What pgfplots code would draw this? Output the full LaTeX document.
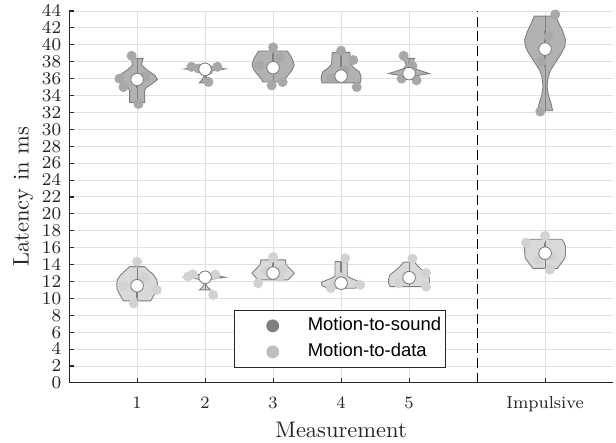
\documentclass[border=0pt]{standalone}
\usepackage{fontspec}
\usepackage{pgfplots}
\pgfplotsset{compat=1.18}
\usetikzlibrary{calc}
\newfontfamily\legendfont{Liberation Sans}
\definecolor{sndfill}{RGB}{178,178,178}
\definecolor{datfill}{RGB}{217,217,217}
\definecolor{edgec}{RGB}{128,128,128}
\definecolor{snddot}{RGB}{168,168,168}
\definecolor{datdot}{RGB}{210,210,210}
\definecolor{sndleg}{RGB}{128,128,128}
\definecolor{datleg}{RGB}{191,191,191}
\definecolor{gridc}{RGB}{225,225,225}
\definecolor{axc}{RGB}{38,38,38}
\begin{document}
\begin{tikzpicture}
\begin{axis}[
  scale only axis, width=241.8pt, height=165.3pt,
  xmin=0, xmax=8, ymin=0, ymax=44,
  axis lines*=left, axis line style={axc, line width=0.5pt},
  tick align=inside, major tick length=2.2pt, tick style={axc, line width=0.5pt},
  xtick={1,2,3,4,5,7}, xticklabels={1,2,3,4,5,Impulsive},
  ytick={0,2,...,44},
  grid=major, grid style={gridc, line width=0.45pt},
  tick label style={font=\fontsize{7.7}{8}\selectfont, text=axc},
  xticklabel style={yshift=-2.5pt},
  label style={font=\fontsize{10}{12}\selectfont, text=axc},
  xlabel={Measurement}, ylabel={Latency in ms},
  xlabel style={yshift=2.5pt},
  ylabel style={yshift=-3pt},
  legend style={at={(axis cs:2.43,8.63)}, anchor=north west,
    draw=axc, line width=0.5pt, fill=white,
    font=\legendfont\fontsize{8.2}{9.8}\selectfont,
    inner xsep=1.8pt, inner ysep=2pt, row sep=2pt,
    nodes={inner xsep=0pt, inner ysep=0.9pt, text height=6pt, text depth=1.8pt}},
  legend cell align=left,
  legend image code/.code={\path (0pt,0pt) -- (30.6pt,0pt);
    \draw[#1] plot coordinates {(15pt,0pt)};},
]
\addlegendimage{mark=*, mark size=2.6pt, draw=none, mark options={draw=sndleg, fill=sndleg}}
\addlegendentry{Motion-to-sound}
\addlegendimage{mark=*, mark size=2.6pt, draw=none, mark options={draw=datleg, fill=datleg}}
\addlegendentry{Motion-to-data}

% separator
\addplot[forget plot, black, line width=0.5pt, dash pattern=on 4.4pt off 2.2pt]
  coordinates {(6,0) (6,44)};

% --- raw points (behind the violins) ---
\addplot[forget plot, only marks, mark=*, mark size=2pt, mark options={draw=snddot, fill=snddot}]
  coordinates {(0.92,38.7) (0.80,35.0) (1.02,33.0) (0.74,36.0) (1.12,36.3)
               (1.80,37.4) (2.18,37.4) (2.05,35.6) (1.90,37.2) (2.05,37.0)
               (3.00,39.7) (2.98,35.2) (3.14,35.6) (2.80,37.6) (3.10,38.5)
               (4.00,39.3) (4.18,38.2) (4.23,35.0) (3.85,36.0) (4.05,37.0)
               (4.92,38.7) (5.11,35.8) (4.89,36.0) (5.00,36.6) (5.05,37.5)
               (7.15,43.6) (6.93,32.1) (7.00,39.5) (7.05,41.0) (6.95,38.0)};
\addplot[forget plot, only marks, mark=*, mark size=2pt, mark options={draw=datdot, fill=datdot}]
  coordinates {(1.00,14.35) (1.29,11.0) (0.95,9.4) (0.80,11.5) (1.10,12.5)
               (1.82,12.85) (2.15,12.8) (2.12,10.4) (2.00,12.5) (1.75,12.6)
               (3.00,14.9) (2.78,11.8) (3.15,13.5) (3.10,12.5) (2.90,13.2)
               (4.06,14.75) (4.28,11.6) (3.85,11.2) (4.00,12.5) (3.90,11.8)
               (5.05,14.7) (5.25,13.0) (5.25,11.4) (4.85,11.8) (5.00,12.4)
               (7.00,17.4) (7.07,13.4) (6.72,16.6) (7.10,15.0) (6.90,14.5)};

% --- violins: motion-to-sound ---
\addplot[forget plot, fill=sndfill, draw=edgec, line width=0.4pt] coordinates {
  (1.09,38.4) (1.075,38.0) (1.065,37.6) (1.15,37.0) (1.26,36.4) (1.30,35.9) (1.22,35.4) (1.13,34.9) (1.11,34.6) (1.11,33.2)
  (0.89,33.2) (0.89,34.6) (0.87,34.9) (0.78,35.4) (0.70,35.9) (0.74,36.4) (0.85,37.0) (0.935,37.6) (0.925,38.0) (0.91,38.4)} -- cycle;
\addplot[forget plot, fill=sndfill, draw=edgec, line width=0.4pt] coordinates {
  (2.02,37.6) (2.15,37.35) (2.30,37.15) (2.15,37.0) (2.03,36.8) (2.015,36.3) (2.04,35.9) (2.085,35.5)
  (1.915,35.5) (1.96,35.9) (1.985,36.3) (1.97,36.8) (1.85,37.0) (1.70,37.15) (1.85,37.35) (1.98,37.6)} -- cycle;
\addplot[forget plot, fill=sndfill, draw=edgec, line width=0.4pt] coordinates {
  (3.21,39.27) (3.25,38.8) (3.29,38.2) (3.31,37.6) (3.28,37.0) (3.22,36.4) (3.17,35.9) (3.15,35.6)
  (2.85,35.6) (2.83,35.9) (2.78,36.4) (2.72,37.0) (2.69,37.6) (2.71,38.2) (2.75,38.8) (2.79,39.27)} -- cycle;
\addplot[forget plot, fill=sndfill, draw=edgec, line width=0.4pt] coordinates {
  (4.13,39.1) (4.135,38.4) (4.14,37.7) (4.20,37.2) (4.27,36.8) (4.29,36.3) (4.29,35.8) (4.28,35.5)
  (3.72,35.5) (3.71,35.8) (3.71,36.3) (3.73,36.8) (3.80,37.2) (3.86,37.7) (3.865,38.4) (3.87,39.1)} -- cycle;
\addplot[forget plot, fill=sndfill, draw=edgec, line width=0.4pt] coordinates {
  (5.08,38.4) (5.06,38.0) (5.04,37.6) (5.08,37.2) (5.20,36.85) (5.30,36.6) (5.15,36.4) (5.03,36.2)
  (4.97,36.2) (4.85,36.4) (4.70,36.6) (4.80,36.85) (4.92,37.2) (4.96,37.6) (4.94,38.0) (4.92,38.4)} -- cycle;
\addplot[forget plot, fill=sndfill, draw=edgec, line width=0.4pt] coordinates {
  (7.16,43.4) (7.20,42.6) (7.26,41.6) (7.30,40.6) (7.29,39.8) (7.24,39.0) (7.16,38.0) (7.08,37.0) (7.045,36.2) (7.03,35.0) (7.05,34.0) (7.09,33.0) (7.11,32.2)
  (6.89,32.2) (6.91,33.0) (6.95,34.0) (6.97,35.0) (6.955,36.2) (6.92,37.0) (6.84,38.0) (6.76,39.0) (6.71,39.8) (6.70,40.6) (6.74,41.6) (6.80,42.6) (6.84,43.4)} -- cycle;

% --- violins: motion-to-data ---
\addplot[forget plot, fill=datfill, draw=edgec, line width=0.4pt] coordinates {
  (1.11,13.76) (1.17,13.3) (1.24,12.8) (1.29,12.2) (1.30,11.6) (1.29,11.0) (1.25,10.4) (1.20,9.7)
  (0.80,9.7) (0.75,10.4) (0.71,11.0) (0.70,11.6) (0.71,12.2) (0.76,12.8) (0.83,13.3) (0.89,13.76)} -- cycle;
\addplot[forget plot, fill=datfill, draw=edgec, line width=0.4pt] coordinates {
  (2.02,13.0) (2.15,12.7) (2.30,12.5) (2.15,12.35) (2.03,12.15) (2.015,11.6) (2.04,11.3) (2.085,11.0)
  (1.915,11.0) (1.96,11.3) (1.985,11.6) (1.97,12.15) (1.85,12.35) (1.70,12.5) (1.85,12.7) (1.98,13.0)} -- cycle;
\addplot[forget plot, fill=datfill, draw=edgec, line width=0.4pt] coordinates {
  (3.18,14.55) (3.19,14.0) (3.25,13.5) (3.31,13.0) (3.27,12.6) (3.22,12.2)
  (2.78,12.2) (2.73,12.6) (2.69,13.0) (2.75,13.5) (2.81,14.0) (2.82,14.55)} -- cycle;
\addplot[forget plot, fill=datfill, draw=edgec, line width=0.4pt] coordinates {
  (4.09,14.35) (4.09,13.5) (4.09,12.6) (4.20,12.2) (4.29,11.9) (4.28,11.5) (4.20,11.2)
  (3.80,11.2) (3.72,11.5) (3.71,11.9) (3.80,12.2) (3.91,12.6) (3.91,13.5) (3.91,14.35)} -- cycle;
\addplot[forget plot, fill=datfill, draw=edgec, line width=0.4pt] coordinates {
  (5.08,14.3) (5.12,13.9) (5.20,13.3) (5.28,12.8) (5.30,12.3) (5.30,11.8) (5.28,11.4)
  (4.72,11.4) (4.70,11.8) (4.70,12.3) (4.72,12.8) (4.80,13.3) (4.88,13.9) (4.92,14.3)} -- cycle;
\addplot[forget plot, fill=datfill, draw=edgec, line width=0.4pt] coordinates {
  (7.245,17.0) (7.28,16.6) (7.30,16.1) (7.30,15.4) (7.29,14.75) (7.23,14.1) (7.18,13.55)
  (6.82,13.55) (6.77,14.1) (6.71,14.75) (6.70,15.4) (6.70,16.1) (6.72,16.6) (6.755,17.0)} -- cycle;

% --- whiskers (thin) ---
\addplot[forget plot, edgec, line width=0.4pt] coordinates {(1,33.2) (1,38.4)};
\addplot[forget plot, edgec, line width=0.4pt] coordinates {(2,35.5) (2,37.6)};
\addplot[forget plot, edgec, line width=0.4pt] coordinates {(3,35.6) (3,39.27)};
\addplot[forget plot, edgec, line width=0.4pt] coordinates {(4,35.5) (4,39.1)};
\addplot[forget plot, edgec, line width=0.4pt] coordinates {(5,36.2) (5,38.4)};
\addplot[forget plot, edgec, line width=0.4pt] coordinates {(7,32.2) (7,43.4)};
\addplot[forget plot, edgec, line width=0.4pt] coordinates {(1,9.7) (1,13.76)};
\addplot[forget plot, edgec, line width=0.4pt] coordinates {(2,11.0) (2,13.0)};
\addplot[forget plot, edgec, line width=0.4pt] coordinates {(3,12.2) (3,14.55)};
\addplot[forget plot, edgec, line width=0.4pt] coordinates {(4,11.2) (4,14.35)};
\addplot[forget plot, edgec, line width=0.4pt] coordinates {(5,11.4) (5,14.3)};
\addplot[forget plot, edgec, line width=0.4pt] coordinates {(7,13.55) (7,17.0)};

% --- interquartile ranges (thick) ---
\addplot[forget plot, edgec, line width=1.1pt] coordinates {(1,34.9) (1,36.0)};
\addplot[forget plot, edgec, line width=1.1pt] coordinates {(2,36.9) (2,37.3)};
\addplot[forget plot, edgec, line width=1.1pt] coordinates {(3,37.0) (3,39.0)};
\addplot[forget plot, edgec, line width=1.1pt] coordinates {(4,36.2) (4,39.0)};
\addplot[forget plot, edgec, line width=1.1pt] coordinates {(5,36.4) (5,38.0)};
\addplot[forget plot, edgec, line width=1.1pt] coordinates {(7,37.4) (7,41.6)};
\addplot[forget plot, edgec, line width=1.1pt] coordinates {(1,10.0) (1,11.5)};
\addplot[forget plot, edgec, line width=1.1pt] coordinates {(2,12.3) (2,12.6)};
\addplot[forget plot, edgec, line width=1.1pt] coordinates {(3,13.0) (3,14.2)};
\addplot[forget plot, edgec, line width=1.1pt] coordinates {(4,12.0) (4,14.3)};
\addplot[forget plot, edgec, line width=1.1pt] coordinates {(5,12.0) (5,12.9)};
\addplot[forget plot, edgec, line width=1.1pt] coordinates {(7,14.9) (7,16.5)};

% --- medians ---
\addplot[forget plot, only marks, mark=*, mark size=2.8pt,
  mark options={fill=white, draw=edgec, line width=0.4pt}]
  coordinates {(1,35.9) (2,37.1) (3,37.3) (4,36.3) (5,36.6) (7,39.5)
               (1,11.5) (2,12.5) (3,13.0) (4,11.8) (5,12.45) (7,15.35)};
\end{axis}
\pgfresetboundingbox
\path ($(current axis.south west)+(-30.7pt,-26.7pt)$) rectangle ($(current axis.north east)+(1.3pt,4.9pt)$);
\end{tikzpicture}
\end{document}
